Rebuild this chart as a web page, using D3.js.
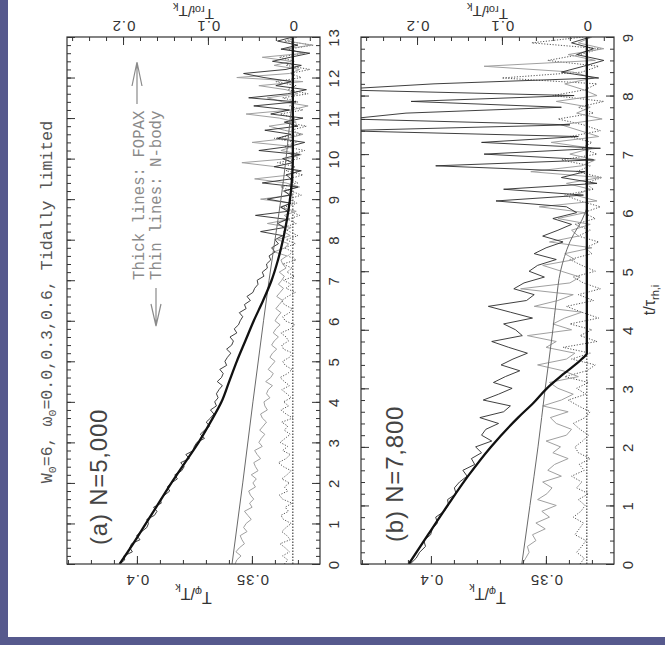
<!DOCTYPE html>
<html>
<head>
<meta charset="utf-8">
<script src="https://cdn.jsdelivr.net/npm/d3@7"></script>
<style>
  html, body { margin: 0; padding: 0; background: #fff; }
  svg { display: block; }
</style>
</head>
<body>
<svg id="chart" width="665" height="645"></svg>
<script>
// Rotated two-panel figure: T_rot/T_k vs t/t_rh,i, FOPAX vs N-body.
// The page is the original figure turned 90 deg, so time runs up the page.

// ---- panel (a) N=5,000 ----
const fopA6T = [0, 0.5, 1, 1.5, 2, 2.5, 3, 3.5, 4, 4.5, 5, 5.5, 6, 6.5, 7, 7.5, 8, 8.5, 9, 9.5, 10, 13];
const fopA6 = [0.204, 0.188, 0.173, 0.158, 0.143, 0.127, 0.111, 0.097, 0.084, 0.075, 0.066, 0.056, 0.046,
  0.035, 0.025, 0.0175, 0.0116, 0.0069, 0.0033, 0.001, 0, 0];
const fopA3T = [0, 2, 4, 6, 7, 8, 9, 10, 11, 11.6, 13];
const fopA3 = [0.0716, 0.059, 0.047, 0.0345, 0.028, 0.021, 0.014, 0.008, 0.003, 0, 0];
const fopA0T = [0, 13];
const fopA0 = [0, 0];

// N-body samples every 0.1 t_rh,i
const nbA6 = [
  0.204, 0.198, 0.199, 0.189, 0.192, 0.190, 0.180, 0.184, 0.178, 0.172,
  0.170, 0.172, 0.163, 0.160, 0.164, 0.155, 0.156, 0.151, 0.145, 0.148,
  0.143, 0.136, 0.139, 0.131, 0.128, 0.132, 0.122, 0.126, 0.117, 0.116,
  0.113, 0.104, 0.109, 0.104, 0.098, 0.102, 0.097, 0.093, 0.097, 0.090,
  0.092, 0.088, 0.090, 0.087, 0.083, 0.089, 0.084, 0.082, 0.086, 0.078,
  0.080, 0.077, 0.073, 0.078, 0.072, 0.070, 0.074, 0.066, 0.069, 0.064,
  0.062, 0.059, 0.063, 0.055, 0.057, 0.050, 0.054, 0.047, 0.045, 0.041,
  0.042, 0.034, 0.036, 0.030, 0.031, 0.026, 0.028, 0.021, 0.025, 0.017,
  0.021, 0.012, 0.038, 0.010, 0.018, 0.007, 0.044, 0.006, 0.014, 0.002,
  0.030, 0.004, 0.010, -0.006, 0.036, 0.002, 0.008, -0.010, 0.022, 0.000,
  0.012, -0.008, 0.040, 0.004, -0.014, 0.018, 0.002, 0.033, -0.006, 0.010,
  -0.012, 0.026, 0.004, 0.046, -0.004, 0.052, 0.006, -0.016, 0.020, 0.002,
  0.034, 0.058, 0.008, -0.010, 0.024, 0.003, -0.020, 0.014, -0.006, 0.018,
  0.000
];
const nbA3 = [
  0.068, 0.066, 0.061, 0.067, 0.063, 0.057, 0.060, 0.062, 0.054, 0.058,
  0.055, 0.049, 0.053, 0.057, 0.048, 0.051, 0.046, 0.050, 0.052, 0.044,
  0.047, 0.043, 0.049, 0.041, 0.044, 0.046, 0.038, 0.042, 0.045, 0.036,
  0.040, 0.037, 0.033, 0.039, 0.035, 0.031, 0.036, 0.038, 0.030, 0.033,
  0.034, 0.027, 0.031, 0.029, 0.024, 0.032, 0.026, 0.023, 0.029, 0.025,
  0.021, 0.027, 0.024, 0.019, 0.025, 0.022, 0.017, 0.023, 0.020, 0.015,
  0.021, 0.018, 0.014, 0.020, 0.016, 0.012, 0.019, 0.015, 0.011, 0.017,
  0.013, 0.010, 0.016, 0.008, 0.012, 0.014, 0.007, 0.022, 0.009, 0.005,
  0.018, 0.003, 0.011, 0.002, 0.030, 0.004, 0.010, -0.004, 0.016, 0.002,
  0.038, 0.000, 0.012, -0.008, 0.008, 0.045, 0.002, -0.006, 0.020, 0.060,
  0.004, -0.010, 0.014, 0.000, 0.048, 0.006, -0.012, 0.010, 0.028, -0.004,
  0.016, 0.055, 0.002, -0.018, 0.012, 0.030, -0.006, 0.008, 0.040, -0.012,
  0.066, 0.004, -0.008, 0.022, 0.002, 0.036, -0.014, 0.010, -0.022, 0.006,
  -0.004
];
const nbA0 = [
  0.010, 0.006, 0.012, 0.004, 0.009, 0.015, 0.003, 0.007, 0.013, 0.008,
  0.002, 0.011, 0.014, 0.005, 0.009, 0.001, 0.012, 0.016, 0.006, 0.010,
  0.004, 0.013, 0.007, 0.002, 0.011, 0.017, 0.008, 0.003, 0.012, 0.006,
  0.015, 0.009, 0.003, 0.010, 0.006, 0.013, 0.000, 0.008, 0.014, 0.005,
  0.011, 0.002, 0.007, 0.013, 0.004, 0.010, 0.015, 0.006, 0.001, 0.009,
  0.012, 0.004, 0.000, 0.011, 0.013, 0.005, 0.008, 0.014, 0.003, -0.002,
  0.009, 0.012, 0.004, 0.001, 0.010, 0.013, 0.006, -0.003, 0.008, 0.002,
  0.011, -0.002, 0.007, 0.001, 0.012, -0.004, 0.006, 0.000, 0.010, -0.003,
  0.008, -0.006, 0.004, 0.012, -0.004, 0.006, -0.008, 0.003, 0.010, -0.005,
  0.005, -0.010, 0.002, 0.014, -0.006, 0.004, -0.012, 0.008, -0.003, 0.018,
  -0.008, 0.003, -0.014, 0.010, -0.004, 0.022, -0.010, 0.002, -0.016, 0.008,
  -0.002, 0.015, -0.012, 0.004, -0.006, 0.012, -0.018, 0.006, -0.004, 0.020,
  -0.010, 0.003, -0.020, 0.008, -0.002, 0.016, -0.012, 0.005, -0.024, 0.010,
  -0.006
];

// ---- panel (b) N=7,800 ----
const fopB6T = [0, 0.5, 1, 1.5, 2, 2.5, 2.75, 3, 3.25, 3.5, 3.6, 9];
const fopB6 = [0.2097, 0.187, 0.164, 0.140, 0.113, 0.081, 0.063, 0.047, 0.027, 0.006, 0, 0];
const fopB3T = [0, 1, 2, 3, 4, 4.5, 5, 5.5, 6, 6.1, 9];
const fopB3 = [0.0766, 0.067, 0.0575, 0.049, 0.040, 0.036, 0.031, 0.020, 0.002, 0, 0];
const fopB0T = [0, 9];
const fopB0 = [0, 0];

const nbB6 = [
  0.208, 0.201, 0.197, 0.190, 0.192, 0.184, 0.182, 0.176, 0.178, 0.168,
  0.163, 0.164, 0.154, 0.156, 0.150, 0.141, 0.146, 0.132, 0.136, 0.124,
  0.131, 0.112, 0.124, 0.119, 0.104, 0.126, 0.098, 0.090, 0.122, 0.104,
  0.088, 0.110, 0.096, 0.079, 0.101, 0.087, 0.070, 0.092, 0.112, 0.076,
  0.084, 0.098, 0.064, 0.090, 0.116, 0.071, 0.062, 0.086, 0.074, 0.050,
  0.068, 0.058, 0.036, 0.062, 0.048, 0.028, 0.052, 0.034, 0.018, 0.040,
  0.012, 0.024, 0.107, 0.004, 0.098, -0.012, 0.030, 0.002, 0.178, -0.008,
  0.121, -0.016, 0.124, 0.010, 0.290, 0.020, 0.280, 0.213, 0.030, 0.207,
  0.015, 0.300, 0.180, -0.014, 0.030, 0.004, -0.020, 0.012, -0.008, 0.018,
  -0.004
];
const nbB3 = [
  0.076, 0.072, 0.068, 0.070, 0.060, 0.064, 0.049, 0.060, 0.044, 0.053,
  0.036, 0.058, 0.047, 0.041, 0.052, 0.030, 0.046, 0.038, 0.022, 0.040,
  0.031, 0.048, 0.024, 0.018, 0.036, 0.043, 0.022, 0.052, 0.030, 0.016,
  0.034, 0.044, 0.010, 0.028, 0.058, 0.024, 0.014, 0.048, 0.036, 0.070,
  0.018, 0.040, 0.026, 0.006, 0.062, 0.034, 0.016, 0.078, 0.020, 0.008,
  0.030, 0.052, 0.014, 0.026, -0.006, 0.044, 0.010, 0.018, -0.004, 0.034,
  0.002, 0.056, -0.012, 0.014, -0.004, 0.024, -0.016, 0.066, 0.006, -0.010,
  0.020, -0.006, 0.042, -0.014, 0.008, 0.030, -0.018, 0.012, -0.004, 0.036,
  -0.012, 0.004, 0.026, -0.008, 0.016, 0.121, -0.010, 0.022, -0.020, 0.010,
  -0.006
];
const nbB0 = [
  0.008, 0.003, 0.012, 0.006, 0.001, 0.014, 0.009, 0.004, 0.016, 0.007,
  0.002, 0.010, -0.002, 0.012, 0.006, 0.018, 0.003, 0.009, -0.004, 0.010,
  0.014, 0.005, -0.002, 0.008, 0.016, 0.002, -0.004, 0.010, 0.022, 0.001,
  0.012, -0.002, 0.026, 0.000, -0.010, 0.018, -0.004, 0.028, -0.012, 0.008,
  -0.006, 0.020, -0.014, 0.006, 0.024, -0.008, 0.010, -0.016, 0.004, 0.016,
  -0.010, 0.006, 0.020, -0.006, 0.002, -0.014, 0.010, -0.004, 0.014, -0.010,
  0.004, -0.016, 0.008, 0.026, -0.008, 0.002, -0.018, 0.012, -0.004, 0.030,
  -0.012, 0.006, -0.006, 0.020, -0.016, 0.004, 0.034, -0.008, 0.010, -0.020,
  0.040, 0.002, -0.012, 0.100, 0.006, -0.014, 0.046, 0.008, -0.016, 0.065,
  0.004
];

// axis ticks
const rotMajor = [0, 0.1, 0.2];
const phiMajor = [0.4, 0.35];
const NB_STEP = 0.1;

const W = 665, H = 645;
const PANEL_W = 253, Y_TOP = 37, Y_BOT = 564;
const SANS = "'Liberation Sans', Arial, Helvetica, sans-serif";
const MONO = "'Liberation Mono', 'Courier New', monospace";

const svg = d3.select("#chart");

// scanned-slide frame
svg.append("rect").attr("width", W).attr("height", H).attr("fill", "#56598d");
svg.append("rect").attr("x", 8).attr("y", 0).attr("width", W - 8).attr("height", 637).attr("fill", "#fff");

const panels = [
  { id: "a", left: 67, tMax: 13, label: "(a) N=5,000", labelX: 107, labelY: 545,
    fop6T: fopA6T, fop6: fopA6, fop3T: fopA3T, fop3: fopA3, fop0T: fopA0T, fop0: fopA0,
    nb6: nbA6, nb3: nbA3, nb0: nbA0 },
  { id: "b", left: 361, tMax: 9, label: "(b) N=7,800", labelX: 403, labelY: 542,
    fop6T: fopB6T, fop6: fopB6, fop3T: fopB3T, fop3: fopB3, fop0T: fopB0T, fop0: fopB0,
    nb6: nbB6, nb3: nbB3, nb0: nbB0 }
];

function styleAxis(sel) {
  sel.select(".domain").remove();
  sel.selectAll(".tick line").attr("stroke", "#333").attr("stroke-width", 1);
  sel.selectAll("text").attr("fill", "#333").style("font-family", SANS)
    .style("font-size", "15px").style("letter-spacing", "1px");
}

// subscripted label, e.g. T_rot / T_k
function subLabel(g, parts, size = 16, shift = 4) {
  const txt = g.append("text").attr("text-anchor", "middle").attr("fill", "#333")
    .style("font-family", SANS).style("font-size", size + "px");
  parts.forEach(([s, sub]) => {
    txt.append("tspan").text(s);
    if (sub) {
      txt.append("tspan").attr("dy", shift).style("font-size", "11px").text(sub);
      txt.append("tspan").attr("dy", -shift).text("");
    }
  });
  return txt;
}

function drawPanel(p) {
  const x0 = p.left, x1 = p.left + PANEL_W;
  const t = d3.scaleLinear().domain([0, p.tMax]).range([Y_BOT, Y_TOP]);
  const rot = d3.scaleLinear().domain([0.266, -0.032]).range([x0, x1]);
  const phi = d3.scaleLinear().domain([0.4304, 0.3204]).range([x0, x1]);

  const g = svg.append("g").attr("class", "panel-" + p.id);

  g.append("clipPath").attr("id", "clip-" + p.id)
    .append("rect").attr("x", x0).attr("y", Y_TOP).attr("width", PANEL_W).attr("height", Y_BOT - Y_TOP);

  const plot = g.append("g").attr("clip-path", `url(#clip-${p.id})`);

  const line = d3.line().x(d => rot(d[1])).y(d => t(d[0]));
  const smooth = d3.line().x(d => rot(d[1])).y(d => t(d[0])).curve(d3.curveMonotoneY);
  const nbPairs = vals => vals.map((v, i) => [i * NB_STEP, v]);
  const pairs = (ts, vs) => ts.map((tt, i) => [tt, vs[i]]);

  // FOPAX omega0 = 0 : the zero line
  plot.append("path").attr("d", line(pairs(p.fop0T, p.fop0)))
    .attr("fill", "none").attr("stroke", "#333").attr("stroke-width", 1.1)
    .attr("stroke-dasharray", "1.5,1.5");

  // N-body, omega0 = 0 (dotted)
  plot.append("path").attr("d", line(nbPairs(p.nb0)))
    .attr("fill", "none").attr("stroke", "#555").attr("stroke-width", 1)
    .attr("stroke-dasharray", "1.2,1.6");

  // N-body, omega0 = 0.3 (grey)
  plot.append("path").attr("d", line(nbPairs(p.nb3)))
    .attr("fill", "none").attr("stroke", "#a0a0a0").attr("stroke-width", 1);

  // N-body, omega0 = 0.6 (black)
  plot.append("path").attr("d", line(nbPairs(p.nb6)))
    .attr("fill", "none").attr("stroke", "#2a2a2a").attr("stroke-width", 0.9);

  // FOPAX omega0 = 0.3
  plot.append("path").attr("d", smooth(pairs(p.fop3T, p.fop3)))
    .attr("fill", "none").attr("stroke", "#6a6a6a").attr("stroke-width", 1);

  // FOPAX omega0 = 0.6 (thick)
  plot.append("path").attr("d", smooth(pairs(p.fop6T, p.fop6)))
    .attr("fill", "none").attr("stroke", "#111").attr("stroke-width", 2.3);

  // frame
  g.append("rect").attr("x", x0).attr("y", Y_TOP).attr("width", PANEL_W).attr("height", Y_BOT - Y_TOP)
    .attr("fill", "none").attr("stroke", "#333").attr("stroke-width", 1.2);

  // top axis: T_rot/T_k
  const topMinor = g.append("g").attr("transform", `translate(0,${Y_TOP})`)
    .call(d3.axisTop(rot).tickValues(d3.range(-0.02, 0.261, 0.02)).tickSizeInner(-4).tickSizeOuter(0).tickFormat(""));
  styleAxis(topMinor);
  const topMajor = g.append("g").attr("transform", `translate(0,${Y_TOP})`)
    .call(d3.axisTop(rot).tickValues(rotMajor).tickSizeInner(-8).tickSizeOuter(0).tickFormat(d => String(d)));
  styleAxis(topMajor);
  topMajor.selectAll("text").attr("y", 0).attr("dy", 0).attr("text-anchor", "middle")
    .attr("transform", "translate(0,-16) rotate(180)");

  // bottom axis: T_phi/T_k
  const botMinor = g.append("g").attr("transform", `translate(0,${Y_BOT})`)
    .call(d3.axisBottom(phi).tickValues(d3.range(0.33, 0.4301, 0.01)).tickSizeInner(-4).tickSizeOuter(0).tickFormat(""));
  styleAxis(botMinor);
  const botMajor = g.append("g").attr("transform", `translate(0,${Y_BOT})`)
    .call(d3.axisBottom(phi).tickValues(phiMajor).tickSizeInner(-8).tickSizeOuter(0).tickFormat(d => String(d)));
  styleAxis(botMajor);
  botMajor.selectAll("text").attr("y", 0).attr("dy", 0).attr("text-anchor", "middle")
    .attr("transform", "translate(0,11) rotate(180)");

  // time axes on both long edges
  const tMinorVals = d3.range(0, p.tMax + 0.001, 0.2);
  const tMajorVals = d3.range(0, p.tMax + 1, 1);
  [[d3.axisLeft, x0], [d3.axisRight, x1]].forEach(([axisFn, xx]) => {
    const mi = g.append("g").attr("transform", `translate(${xx},0)`)
      .call(axisFn(t).tickValues(tMinorVals).tickSizeInner(-4).tickSizeOuter(0).tickFormat(""));
    styleAxis(mi);
    const ma = g.append("g").attr("transform", `translate(${xx},0)`)
      .call(axisFn(t).tickValues(tMajorVals).tickSizeInner(-8).tickSizeOuter(0)
        .tickFormat(axisFn === d3.axisRight ? d3.format("d") : ""));
    styleAxis(ma);
    if (axisFn === d3.axisRight) {
      ma.selectAll("text").attr("x", 0).attr("dy", 0).attr("text-anchor", "middle")
        .attr("transform", "translate(19,0) rotate(-90)");
    }
  });

  // axis titles (upside down, as in the turned figure)
  const cx = (x0 + x1) / 2;
  subLabel(g.append("g").attr("transform", `translate(${cx},9) rotate(180)`), [["T", "rot"], ["/T", "k"]], 15, 3);
  subLabel(g.append("g").attr("transform", `translate(${cx},592) rotate(180)`), [["T", "φ"], ["/T", "k"]]);

  // panel label
  g.append("text").attr("transform", `translate(${p.labelX},${p.labelY}) rotate(-90)`)
    .attr("fill", "#444").style("font-family", SANS).style("font-size", "24px")
    .style("letter-spacing", "0.8px").text(p.label);
}

panels.forEach(drawPanel);

// time axis title
subLabel(svg.append("g").attr("transform", "translate(655,300) rotate(-90)"), [["t/τ", "rh,i"]]);

// figure title
const title = svg.append("text").attr("transform", "translate(52,302) rotate(-90)")
  .attr("text-anchor", "middle").attr("fill", "#555")
  .style("font-family", MONO).style("font-size", "16.6px");
title.append("tspan").text("W");
title.append("tspan").attr("dy", 4).style("font-size", "11.5px").text("0");
title.append("tspan").attr("dy", -4).text("=6, ω");
title.append("tspan").attr("dy", 4).style("font-size", "11.5px").text("0");
title.append("tspan").attr("dy", -4).text("=0.0,0.3,0.6, Tidally limited");

// legend
const legendColor = "#8a8a8a";
svg.append("text").attr("transform", "translate(144,280) rotate(-90)")
  .attr("fill", legendColor).style("font-family", MONO).style("font-size", "15.7px")
  .text("Thick lines: FOPAX");
svg.append("path").attr("d", "M137,104 L137,62 M132,86 L137,62 L142,86")
  .attr("fill", "none").attr("stroke", legendColor).attr("stroke-width", 1.2);
svg.append("text").attr("transform", "translate(161,280) rotate(-90)")
  .attr("fill", legendColor).style("font-family", MONO).style("font-size", "15.7px")
  .text("Thin lines: N-body");
svg.append("path").attr("d", "M156,288 L156,326 M151,304 L156,326 L161,304")
  .attr("fill", "none").attr("stroke", legendColor).attr("stroke-width", 1.2);
</script>
</body>
</html>
